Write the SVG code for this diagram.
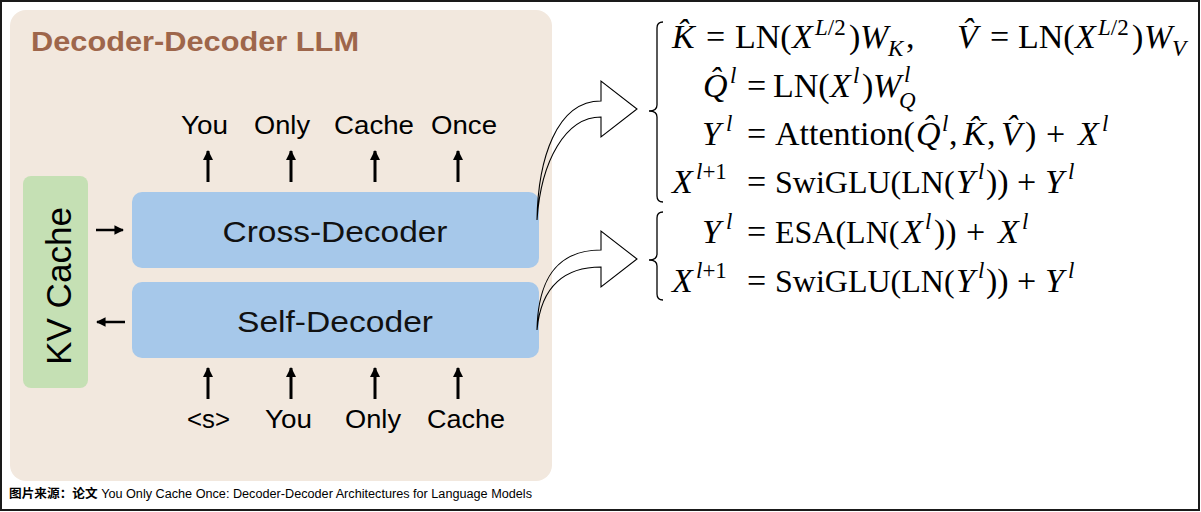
<svg xmlns="http://www.w3.org/2000/svg" width="1201" height="512" viewBox="0 0 1201 512">
<style>
.sans{font-family:"Liberation Sans",Arial,sans-serif;fill:#000}
.tok{font-size:26px;text-anchor:middle}
.box{font-size:29px;text-anchor:middle;fill:#111}
.m{font-family:"Liberation Serif","Times New Roman",serif;font-size:34px;fill:#000}
.n{font-size:32px}
.i{font-style:italic}
.s{font-size:23px}
.arr{stroke:#000;stroke-width:3;fill:none}
.harr{stroke:#000;stroke-width:2.5;fill:none}
.big{fill:none;stroke:#000;stroke-width:1.1;stroke-linejoin:miter}
.brace{fill:none;stroke:#000;stroke-width:1.3}
</style>
<defs>
<marker id="ah" viewBox="0 0 10 10" refX="9" refY="5" markerWidth="3.4" markerHeight="3.4" orient="auto" markerUnits="strokeWidth">
<path d="M0,0 L10,5 L0,10 z" fill="#000"/>
</marker>
<marker id="ah2" viewBox="0 0 10 10" refX="9" refY="5" markerWidth="3.8" markerHeight="3.8" orient="auto" markerUnits="strokeWidth">
<path d="M0,0 L10,5 L0,10 z" fill="#000"/>
</marker>
</defs>
<rect x="1" y="1" width="1198" height="509" fill="#fff" stroke="#1a1a1a" stroke-width="2"/>

<g id="panel">
<rect x="10" y="10" width="542" height="471" rx="16" fill="#F2E8DE"/>
<text class="sans" x="31" y="51" font-size="28" font-weight="bold" style="fill:#9E664B" textLength="328" lengthAdjust="spacingAndGlyphs">Decoder-Decoder LLM</text>
</g>

<g id="kv-cache">
<rect x="23" y="176" width="65" height="212" rx="8" fill="#C5E0B4"/>
<text class="sans" transform="translate(71,286) rotate(-90)" x="0" y="0" font-size="35" text-anchor="middle" textLength="158" lengthAdjust="spacingAndGlyphs">KV Cache</text>
</g>

<g id="cross-decoder">
<rect x="132" y="192" width="407" height="76" rx="10" fill="#A6C8EA"/>
<text class="sans box" x="335" y="242" textLength="225" lengthAdjust="spacingAndGlyphs">Cross-Decoder</text>
</g>

<g id="self-decoder">
<rect x="132" y="282" width="407" height="76" rx="10" fill="#A6C8EA"/>
<text class="sans box" x="335" y="332" textLength="196" lengthAdjust="spacingAndGlyphs">Self-Decoder</text>
</g>

<g id="output-tokens">
<text class="sans tok" x="204.5" y="134" textLength="47" lengthAdjust="spacingAndGlyphs">You</text>
<text class="sans tok" x="282" y="134" textLength="56" lengthAdjust="spacingAndGlyphs">Only</text>
<text class="sans tok" x="374" y="134" textLength="80" lengthAdjust="spacingAndGlyphs">Cache</text>
<text class="sans tok" x="464" y="134" textLength="66" lengthAdjust="spacingAndGlyphs">Once</text>
</g>

<g id="input-tokens">
<text class="sans tok" x="208.5" y="428" textLength="43" lengthAdjust="spacingAndGlyphs">&lt;s&gt;</text>
<text class="sans tok" x="288.5" y="428" textLength="47" lengthAdjust="spacingAndGlyphs">You</text>
<text class="sans tok" x="373" y="428" textLength="56" lengthAdjust="spacingAndGlyphs">Only</text>
<text class="sans tok" x="466" y="428" textLength="78" lengthAdjust="spacingAndGlyphs">Cache</text>
</g>

<g id="connectors">
<line class="arr" x1="208" y1="182" x2="208" y2="151" marker-end="url(#ah)"/>
<line class="arr" x1="291" y1="182" x2="291" y2="151" marker-end="url(#ah)"/>
<line class="arr" x1="375" y1="182" x2="375" y2="151" marker-end="url(#ah)"/>
<line class="arr" x1="458" y1="182" x2="458" y2="151" marker-end="url(#ah)"/>
<line class="arr" x1="208" y1="399" x2="208" y2="368" marker-end="url(#ah)"/>
<line class="arr" x1="291" y1="399" x2="291" y2="368" marker-end="url(#ah)"/>
<line class="arr" x1="375" y1="399" x2="375" y2="368" marker-end="url(#ah)"/>
<line class="arr" x1="458" y1="399" x2="458" y2="368" marker-end="url(#ah)"/>
<line class="harr" x1="96" y1="230" x2="123" y2="230" marker-end="url(#ah2)"/>
<line class="harr" x1="125" y1="322" x2="97" y2="322" marker-end="url(#ah2)"/>
<path class="big" d="M537,220 C538,160 556,101 601,101 L601,81 L637,109 L601,137 L601,117 C566,117 541,160 537,220 Z"/>
<path class="big" d="M537,330 C538,280 556,250 601,250 L601,231 L637,259 L601,287 L601,267 C566,267 541,285 537,330 Z"/>
</g>

<g id="cross-equations">
<path class="brace" d="M663,22 Q657,22 657,28 L657,105 Q657,111 649,111 Q657,111 657,117 L657,196 Q657,202 663,202"/>
<text class="m" y="48"><tspan x="672" class="i">K&#x302;</tspan><tspan x="706">=</tspan><tspan x="735">LN(</tspan><tspan x="792" class="i">X</tspan><tspan x="815" y="35" class="s"><tspan class="i">L</tspan>/2</tspan><tspan x="849" y="48">)</tspan><tspan x="860" class="i">W</tspan><tspan x="888" y="56" class="s i">K</tspan><tspan x="906" y="48">,</tspan><tspan x="957" class="i">V&#x302;</tspan><tspan x="990">=</tspan><tspan x="1018">LN(</tspan><tspan x="1075" class="i">X</tspan><tspan x="1098" y="35" class="s"><tspan class="i">L</tspan>/2</tspan><tspan x="1132" y="48">)</tspan><tspan x="1144" class="i">W</tspan><tspan x="1172" y="56" class="s i">V</tspan></text>
<text class="m" y="97"><tspan x="703" class="i">Q&#x302;</tspan><tspan x="730" y="83" class="s i">l</tspan><tspan x="747" y="97">=</tspan><tspan x="773">LN(</tspan><tspan x="830" class="i">X</tspan><tspan x="853" y="83" class="s i">l</tspan><tspan x="862" y="97">)</tspan><tspan x="873" class="i">W</tspan><tspan x="904" y="82" class="s i">l</tspan><tspan x="899" y="108" class="s i">Q</tspan></text>
<text class="m" y="145"><tspan x="702" class="i">Y</tspan><tspan x="726" y="131" class="s i">l</tspan><tspan x="747" y="145">=</tspan><tspan x="775">Attention(</tspan><tspan x="916" class="i">Q&#x302;</tspan><tspan x="942" y="131" class="s i">l</tspan><tspan x="949" y="145">,</tspan><tspan x="963" class="i">K&#x302;</tspan><tspan x="987">,</tspan><tspan x="1001" class="i">V&#x302;</tspan><tspan x="1025">)</tspan><tspan x="1046">+</tspan><tspan x="1078" class="i">X</tspan><tspan x="1102" y="131" class="s i">l</tspan></text>
<text class="m" y="193"><tspan x="672" class="i">X</tspan><tspan x="696" y="179" class="s"><tspan class="i">l</tspan>+1</tspan><tspan x="747" y="193">=</tspan><tspan x="775" class="n">SwiGLU(LN(</tspan><tspan x="956" class="i">Y</tspan><tspan x="978" y="179" class="s i">l</tspan><tspan x="986" y="193">))</tspan><tspan x="1017">+</tspan><tspan x="1045" class="i">Y</tspan><tspan x="1068" y="179" class="s i">l</tspan></text>
</g>

<g id="self-equations">
<path class="brace" d="M663,212 Q657,212 657,218 L657,254 Q657,260 649,260 Q657,260 657,266 L657,294 Q657,300 663,300"/>
<text class="m" y="243"><tspan x="702" class="i">Y</tspan><tspan x="726" y="229" class="s i">l</tspan><tspan x="747" y="243">=</tspan><tspan x="775" class="n">ESA(LN(</tspan><tspan x="902" class="i">X</tspan><tspan x="925" y="229" class="s i">l</tspan><tspan x="934" y="243">))</tspan><tspan x="966">+</tspan><tspan x="998" class="i">X</tspan><tspan x="1022" y="229" class="s i">l</tspan></text>
<text class="m" y="292"><tspan x="672" class="i">X</tspan><tspan x="696" y="278" class="s"><tspan class="i">l</tspan>+1</tspan><tspan x="747" y="292">=</tspan><tspan x="775" class="n">SwiGLU(LN(</tspan><tspan x="956" class="i">Y</tspan><tspan x="978" y="278" class="s i">l</tspan><tspan x="986" y="292">))</tspan><tspan x="1017">+</tspan><tspan x="1045" class="i">Y</tspan><tspan x="1068" y="278" class="s i">l</tspan></text>
</g>

<g id="footer">
<text x="9" y="498" font-family="'Liberation Sans','Noto Sans CJK SC',sans-serif" font-size="12" fill="#000" textLength="523" lengthAdjust="spacingAndGlyphs"><tspan font-weight="bold">图片来源：论文</tspan> You Only Cache Once: Decoder-Decoder Architectures for Language Models</text>
</g>
</svg>
